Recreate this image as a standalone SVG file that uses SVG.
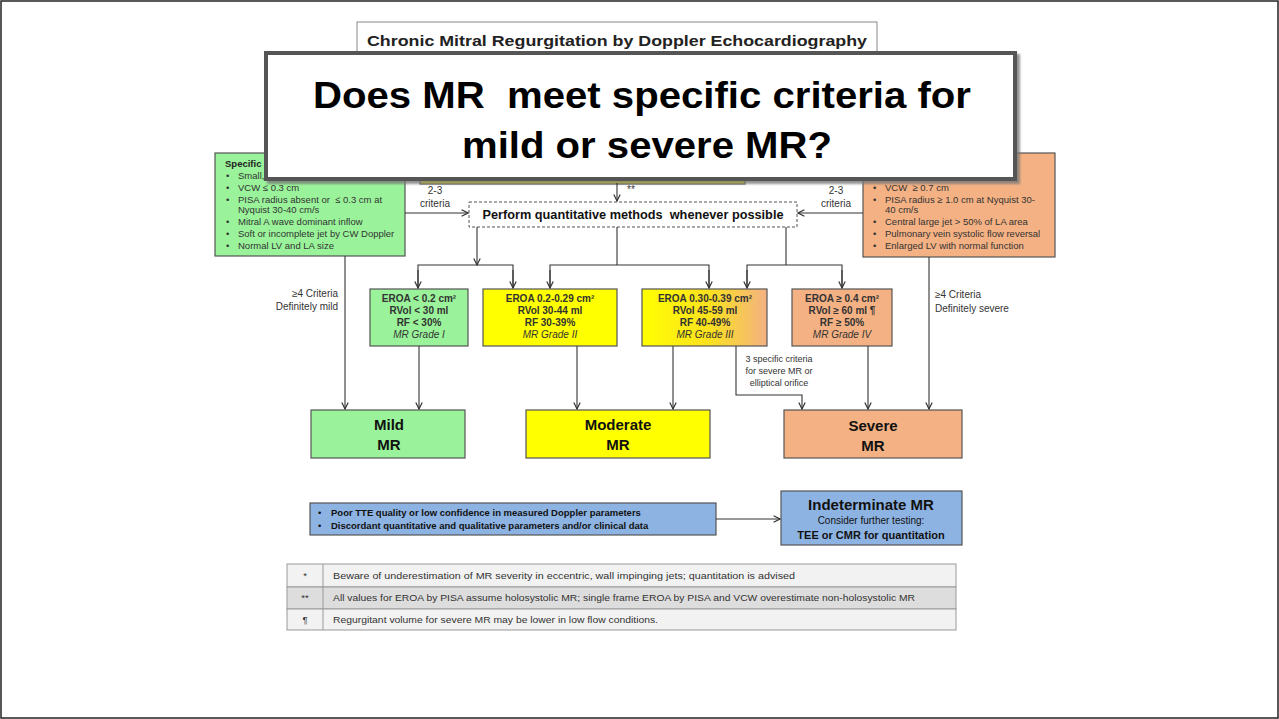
<svg xmlns="http://www.w3.org/2000/svg" width="1279" height="719" viewBox="0 0 1279 719">
<defs>
<marker id="ah" viewBox="0 0 10 10" refX="9" refY="5" markerWidth="8" markerHeight="8" orient="auto" markerUnits="userSpaceOnUse">
<path d="M1,1 L9,5 L1,9" fill="none" stroke="#333" stroke-width="1.5"/>
</marker>
<linearGradient id="g3" x1="0" y1="0" x2="1" y2="0">
<stop offset="0" stop-color="#FFFF00"/>
<stop offset="0.55" stop-color="#FBE020"/>
<stop offset="1" stop-color="#F4B183"/>
</linearGradient>
<filter id="sh" x="-5%" y="-5%" width="110%" height="120%">
<feDropShadow dx="3" dy="3" stdDeviation="1" flood-color="#777" flood-opacity="0.8"/>
</filter>
</defs>
<style>
text{font-family:"Liberation Sans",Arial,sans-serif}
.box{stroke:#555;stroke-width:1.2}
.green{fill:#9AF39A}
.yellow{fill:#FFFF00}
.orange{fill:#F4B183}
.blue{fill:#8DB3E2}
.crit{font-size:9.5px}
.mid{font-size:10px;font-weight:bold;text-anchor:middle}
.midi{font-size:10px;font-style:italic;text-anchor:middle}
.big{font-size:15px;font-weight:bold;text-anchor:middle}
.lbl{font-size:10px}
.c{stroke:#333;stroke-width:1.1;fill:none}
.tbl{font-size:9.5px}
.pre{white-space:pre}
</style>
<rect x="1" y="1" width="1277" height="717" fill="#fff" stroke="#222" stroke-width="1.5"/>
<g fill="#333">
<g id="title">
<rect x="357" y="22" width="520" height="34" fill="#fff" stroke="#888" stroke-width="1"/>
<text x="617" y="46" text-anchor="middle" font-size="15.5" font-weight="bold" fill="#222" textLength="500" lengthAdjust="spacingAndGlyphs">Chronic Mitral Regurgitation by Doppler Echocardiography</text>
</g>

<g id="hidden-yellow">
<rect x="420" y="150" width="325" height="34" class="box yellow"/>
</g>

<g id="mild-criteria">
<rect x="215" y="153" width="190" height="103" class="box green"/>
<text x="225" y="167" class="crit" font-weight="bold" fill="#222">Specific</text>
<g class="crit">
<text x="226" y="179">•</text><text x="238" y="179">Small,</text>
<text x="226" y="191">•</text><text x="238" y="191">VCW ≤ 0.3 cm</text>
<text x="226" y="203">•</text><text x="238" y="203" class="pre">PISA radius absent or  ≤ 0.3 cm at</text>
<text x="238" y="213">Nyquist 30-40 cm/s</text>
<text x="226" y="225">•</text><text x="238" y="225">Mitral A wave dominant inflow</text>
<text x="226" y="237">•</text><text x="238" y="237">Soft or incomplete jet by CW Doppler</text>
<text x="226" y="249">•</text><text x="238" y="249">Normal LV and LA size</text>
</g>
</g>

<g id="severe-criteria">
<rect x="863" y="153" width="192" height="104" class="box orange"/>
<g class="crit">
<text x="873" y="191">•</text><text x="885" y="191" class="pre">VCW  ≥ 0.7 cm</text>
<text x="873" y="203">•</text><text x="885" y="203">PISA radius ≥ 1.0 cm at Nyquist 30-</text>
<text x="885" y="213">40 cm/s</text>
<text x="873" y="225">•</text><text x="885" y="225">Central large jet &gt; 50% of LA area</text>
<text x="873" y="237">•</text><text x="885" y="237">Pulmonary vein systolic flow reversal</text>
<text x="873" y="249">•</text><text x="885" y="249">Enlarged LV with normal function</text>
</g>
</g>

<g id="question">
<rect x="266" y="53" width="749" height="126" fill="#fff" stroke="#555" stroke-width="4" filter="url(#sh)"/>
<text x="642" y="108" text-anchor="middle" font-size="37" font-weight="bold" fill="#000" class="pre" textLength="658" lengthAdjust="spacingAndGlyphs">Does MR  meet specific criteria for</text>
<text x="647" y="158" text-anchor="middle" font-size="37" font-weight="bold" fill="#000" textLength="370" lengthAdjust="spacingAndGlyphs">mild or severe MR?</text>
</g>

<g id="quant">
<rect x="469" y="202" width="328" height="25" fill="#fff" stroke="#555" stroke-width="1" stroke-dasharray="3,2"/>
<text x="633" y="219" text-anchor="middle" font-size="12" font-weight="bold" fill="#111" class="pre" textLength="301" lengthAdjust="spacingAndGlyphs">Perform quantitative methods  whenever possible</text>
</g>

<g id="grade1">
<rect x="370" y="289" width="98" height="57" class="box green"/>
<text x="419" y="302" class="mid">EROA &lt; 0.2 cm²</text>
<text x="419" y="314" class="mid">RVol &lt; 30 ml</text>
<text x="419" y="326" class="mid">RF &lt; 30%</text>
<text x="419" y="338" class="midi">MR Grade I</text>
</g>
<g id="grade2">
<rect x="483" y="289" width="134" height="57" class="box yellow"/>
<text x="550" y="302" class="mid">EROA 0.2-0.29 cm²</text>
<text x="550" y="314" class="mid">RVol 30-44 ml</text>
<text x="550" y="326" class="mid">RF 30-39%</text>
<text x="550" y="338" class="midi">MR Grade II</text>
</g>
<g id="grade3">
<rect x="642" y="289" width="125" height="57" class="box" fill="url(#g3)"/>
<text x="705" y="302" class="mid">EROA 0.30-0.39 cm²</text>
<text x="705" y="314" class="mid">RVol 45-59 ml</text>
<text x="705" y="326" class="mid">RF 40-49%</text>
<text x="705" y="338" class="midi">MR Grade III</text>
</g>
<g id="grade4">
<rect x="792" y="289" width="100" height="57" class="box orange"/>
<text x="842" y="302" class="mid">EROA ≥ 0.4 cm²</text>
<text x="842" y="314" class="mid">RVol ≥ 60 ml ¶</text>
<text x="842" y="326" class="mid">RF ≥ 50%</text>
<text x="842" y="338" class="midi">MR Grade IV</text>
</g>

<g id="mild" fill="#111">
<rect x="311" y="410" width="154" height="48" class="box green"/>
<text x="389" y="430" class="big">Mild</text>
<text x="389" y="450" class="big">MR</text>
</g>
<g id="moderate" fill="#111">
<rect x="526" y="410" width="184" height="48" class="box yellow"/>
<text x="618" y="430" class="big">Moderate</text>
<text x="618" y="450" class="big">MR</text>
</g>
<g id="severe" fill="#111">
<rect x="784" y="410" width="178" height="48" class="box orange"/>
<text x="873" y="431" class="big">Severe</text>
<text x="873" y="451" class="big">MR</text>
</g>

<g id="poor" fill="#111">
<rect x="310" y="503" width="406" height="32" class="box blue"/>
<text x="318" y="516" font-size="9.5">•</text>
<text x="331" y="516" font-size="9.5" font-weight="bold">Poor TTE quality or low confidence in measured Doppler parameters</text>
<text x="318" y="529" font-size="9.5">•</text>
<text x="331" y="529" font-size="9.5" font-weight="bold">Discordant quantitative and qualitative parameters and/or clinical data</text>
</g>
<g id="indeterminate" fill="#111">
<rect x="781" y="491" width="181" height="54" class="box blue"/>
<text x="871" y="510" text-anchor="middle" font-size="15" font-weight="bold">Indeterminate MR</text>
<text x="871" y="524" text-anchor="middle" font-size="10">Consider further testing:</text>
<text x="871" y="539" text-anchor="middle" font-size="11" font-weight="bold">TEE or CMR for quantitation</text>
</g>

<g id="labels">
<text x="435" y="194" text-anchor="middle" class="lbl">2-3</text>
<text x="435" y="207" text-anchor="middle" class="lbl">criteria</text>
<text x="836" y="194" text-anchor="middle" class="lbl">2-3</text>
<text x="836" y="207" text-anchor="middle" class="lbl">criteria</text>
<text x="627" y="193" class="lbl">**</text>
<text x="338" y="297" text-anchor="end" class="lbl">≥4 Criteria</text>
<text x="338" y="310" text-anchor="end" class="lbl">Definitely mild</text>
<text x="935" y="298" class="lbl">≥4 Criteria</text>
<text x="935" y="312" class="lbl">Definitely severe</text>
<text x="779" y="362" text-anchor="middle" font-size="9">3 specific criteria</text>
<text x="779" y="374" text-anchor="middle" font-size="9">for severe MR or</text>
<text x="779" y="386" text-anchor="middle" font-size="9">elliptical orifice</text>
</g>

<g id="connectors">
<line x1="617" y1="183" x2="617" y2="201" class="c" marker-end="url(#ah)"/>
<line x1="405" y1="213" x2="468" y2="213" class="c" marker-end="url(#ah)"/>
<line x1="863" y1="213" x2="798" y2="213" class="c" marker-end="url(#ah)"/>
<line x1="477" y1="227" x2="477" y2="265" class="c" marker-end="url(#ah)"/>
<polyline points="418,288 418,265 513,265 513,288" class="c"/>
<line x1="418" y1="270" x2="418" y2="288" class="c" marker-end="url(#ah)"/>
<line x1="513" y1="270" x2="513" y2="288" class="c" marker-end="url(#ah)"/>
<line x1="617" y1="227" x2="617" y2="265" class="c"/>
<polyline points="550,288 550,265 709,265 709,288" class="c"/>
<line x1="550" y1="270" x2="550" y2="288" class="c" marker-end="url(#ah)"/>
<line x1="709" y1="270" x2="709" y2="288" class="c" marker-end="url(#ah)"/>
<line x1="786" y1="227" x2="786" y2="265" class="c" stroke-width="1.8"/>
<polyline points="747,288 747,265 842,265 842,288" class="c" stroke-width="1.8"/>
<line x1="747" y1="270" x2="747" y2="288" class="c" marker-end="url(#ah)"/>
<line x1="842" y1="270" x2="842" y2="288" class="c" marker-end="url(#ah)"/>
<line x1="345" y1="256" x2="345" y2="409" class="c" marker-end="url(#ah)"/>
<line x1="419" y1="346" x2="419" y2="409" class="c" marker-end="url(#ah)"/>
<line x1="577" y1="346" x2="577" y2="409" class="c" marker-end="url(#ah)"/>
<line x1="673" y1="346" x2="673" y2="409" class="c" marker-end="url(#ah)"/>
<polyline points="736,346 736,395 802,395 802,409" class="c" marker-end="url(#ah)"/>
<line x1="868" y1="346" x2="868" y2="409" class="c" marker-end="url(#ah)"/>
<line x1="929" y1="257" x2="929" y2="409" class="c" marker-end="url(#ah)"/>
<line x1="716" y1="519" x2="780" y2="519" class="c" marker-end="url(#ah)"/>
</g>

<g id="footnotes">
<rect x="287" y="564" width="669" height="23" fill="#F2F2F2" stroke="#999"/>
<rect x="287" y="587" width="669" height="22" fill="#DDDDDD" stroke="#999"/>
<rect x="287" y="609" width="669" height="21" fill="#F2F2F2" stroke="#999"/>
<line x1="323" y1="564" x2="323" y2="630" stroke="#999"/>
<text x="305" y="579" text-anchor="middle" class="tbl">*</text>
<text x="305" y="601" text-anchor="middle" class="tbl">**</text>
<text x="305" y="623" text-anchor="middle" class="tbl">¶</text>
<text x="333" y="579" class="tbl" textLength="462" lengthAdjust="spacingAndGlyphs">Beware of underestimation of MR severity in eccentric, wall impinging jets; quantitation is advised</text>
<text x="333" y="601" class="tbl" textLength="582" lengthAdjust="spacingAndGlyphs">All values for EROA by PISA assume holosystolic MR; single frame EROA by PISA and VCW overestimate non-holosystolic MR</text>
<text x="333" y="623" class="tbl" textLength="325" lengthAdjust="spacingAndGlyphs">Regurgitant volume for severe MR may be lower in low flow conditions.</text>
</g>
</g>
</svg>
